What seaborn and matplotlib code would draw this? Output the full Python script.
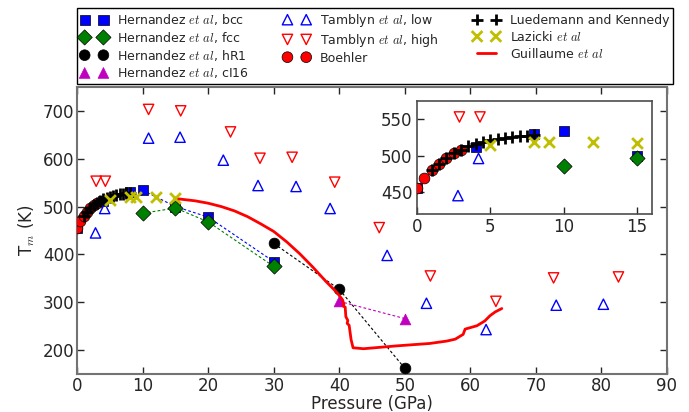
import numpy as np
import seaborn as sns
import matplotlib
matplotlib.use("Agg")
import matplotlib.pyplot as plt

# Hernandez et al
bcc_p = [0, 4, 8, 10, 15, 20, 30]
bcc_t = [455, 512, 530, 534, 500, 478, 385]
bcc_line_p = [10, 15, 20, 30]
bcc_line_t = [534, 500, 478, 385]
fcc_p = [10, 15, 20, 30]
fcc_t = [486, 497, 468, 375]
hr1_p = [30, 40, 50]
hr1_t = [423, 327, 162]
ci16_p = [40, 50]
ci16_t = [302, 266]

# Tamblyn et al
tam_low_p = [2.8, 4.2, 10.9, 15.7, 22.3, 27.6, 33.4, 38.6, 47.3, 53.3, 62.4, 73.1, 80.3]
tam_low_t = [445, 496, 643, 645, 597, 544, 542, 496, 398, 298, 243, 294, 296]
tam_high_p = [2.9, 4.3, 10.9, 15.8, 23.4, 27.9, 32.8, 39.3, 46.1, 53.9, 63.9, 72.7, 82.6]
tam_high_t = [553, 553, 703, 700, 656, 601, 603, 551, 456, 355, 302, 351, 353]

# Boehler
boe_p = [0, 0.5, 1, 1.5, 2, 2.5, 3]
boe_t = [455, 469, 480, 489, 496, 503, 508]

# Luedemann and Kennedy
lk_p = [1, 1.5, 2, 2.5, 3, 3.5, 4, 4.5, 5, 5.5, 6, 6.5, 7, 7.5, 8]
lk_t = [480, 489, 496, 503, 508, 512.5, 515.8, 518.5, 520.7, 523, 524.8, 526.1, 527, 527.5, 528.4]

# Lazicki et al
laz_p = [5, 8, 9, 12, 15]
laz_t = [514, 519, 519, 519, 517]

# Guillaume et al
gui_p = [15.5, 18, 20, 22, 24, 26, 28, 30, 32, 34, 36, 38, 39.6, 40.4, 40.5, 40.7, 40.6, 40.9,
         41.0, 41.3, 41.2, 41.5, 41.8, 42.1, 43.7, 48.8, 53.8, 56.4, 57.7, 58.9, 59.2,
         61.0, 62.2, 63.0, 63.8, 64.8]
gui_t = [516, 512, 507, 500, 491, 479, 464, 448, 426, 401, 373, 343, 321, 307, 305, 296, 292, 290,
         270, 262, 256, 252, 222, 205, 203, 209, 214, 219, 223, 233, 244,
         251, 261, 272, 280, 287]

sns.set_style("ticks")
plt.rcParams['font.family'] = ['DejaVu Sans']
plt.rcParams['mathtext.fontset'] = 'cm'


def draw_points(ax, labels=True):
    def lab(s):
        return s if labels else None
    h = []
    h.append(sns.scatterplot(x=bcc_p, y=bcc_t, marker='s', s=55, color='b', edgecolor='k',
                             linewidth=0.5, zorder=3, ax=ax, label=lab(r'Hernandez $et\ al$, bcc'),
                             legend=False).collections[-1])
    h.append(sns.scatterplot(x=fcc_p, y=fcc_t, marker='D', s=60, color='g', edgecolor='k',
                             linewidth=0.5, zorder=3, ax=ax, label=lab(r'Hernandez $et\ al$, fcc'),
                             legend=False).collections[-1])
    h.append(sns.scatterplot(x=hr1_p, y=hr1_t, marker='o', s=60, color='k', edgecolor='k',
                             linewidth=0.5, zorder=3, ax=ax, label=lab(r'Hernandez $et\ al$, hR1'),
                             legend=False).collections[-1])
    h.append(sns.scatterplot(x=ci16_p, y=ci16_t, marker='^', s=60, color='m', edgecolor='m',
                             linewidth=0.5, zorder=3, ax=ax, label=lab(r'Hernandez $et\ al$, cI16'),
                             legend=False).collections[-1])
    h.append(sns.scatterplot(x=tam_low_p, y=tam_low_t, marker='^', s=55, color='b', facecolor='none',
                             edgecolor='b', linewidth=1, zorder=3, ax=ax,
                             label=lab(r'Tamblyn $et\ al$, low'), legend=False).collections[-1])
    h.append(sns.scatterplot(x=tam_high_p, y=tam_high_t, marker='v', s=55, color='r', facecolor='none',
                             edgecolor='r', linewidth=1, zorder=3, ax=ax,
                             label=lab(r'Tamblyn $et\ al$, high'), legend=False).collections[-1])
    h.append(sns.scatterplot(x=boe_p, y=boe_t, marker='o', s=60, color='r', edgecolor='k',
                             linewidth=0.5, zorder=3, ax=ax, label=lab('Boehler'),
                             legend=False).collections[-1])
    h.append(sns.scatterplot(x=lk_p, y=lk_t, marker='+', s=70, color='k', linewidth=2,
                             zorder=3, ax=ax, label=lab('Luedemann and Kennedy'),
                             legend=False).collections[-1])
    h.append(sns.scatterplot(x=laz_p, y=laz_t, marker='x', s=60, color='y', linewidth=2,
                             zorder=3, ax=ax, label=lab(r'Lazicki $et\ al$'),
                             legend=False).collections[-1])
    return h


fig = plt.figure(figsize=(6.89, 4.12), dpi=100)
ax = fig.add_axes([0.112, 0.092, 0.856, 0.697])

dash = (0, (2.5, 2))
sns.lineplot(x=bcc_line_p, y=bcc_line_t, sort=False, estimator=None, color='b', lw=0.8,
             linestyle=dash, zorder=2, ax=ax, legend=False)
sns.lineplot(x=fcc_p, y=fcc_t, sort=False, estimator=None, color='g', lw=0.8,
             linestyle=dash, zorder=2, ax=ax, legend=False)
sns.lineplot(x=hr1_p, y=hr1_t, sort=False, estimator=None, color='k', lw=0.8,
             linestyle=dash, zorder=2, ax=ax, legend=False)
sns.lineplot(x=ci16_p, y=ci16_t, sort=False, estimator=None, color='m', lw=0.8,
             linestyle=dash, zorder=2, ax=ax, legend=False)

handles = draw_points(ax)
sns.lineplot(x=gui_p, y=gui_t, sort=False, estimator=None, color='r', lw=2, zorder=4,
             ax=ax, legend=False)
gui_line = ax.lines[-1]
gui_line.set_label(r'Guillaume $et\ al$')
handles.append(gui_line)

ax.set_xlim(0, 90)
ax.set_ylim(150, 750)
ax.set_xticks(range(0, 91, 10))
ax.set_yticks(range(200, 701, 100))
ax.set_xlabel('Pressure (GPa)', fontsize=12, labelpad=0)
ax.set_ylabel(r'T$_m$ (K)', fontsize=12)
ax.tick_params(direction='in', length=5, width=1, labelsize=12, top=True, right=True, pad=2)
for sp in ax.spines.values():
    sp.set_color('0.45')
    sp.set_linewidth(1.5)

ax.legend(handles, [h.get_label() for h in handles], ncol=3, loc='lower left',
          bbox_to_anchor=(0, 1.01, 1.01, 0.1), mode='expand', borderaxespad=0,
          scatterpoints=2, scatteryoffsets=[0.5], numpoints=2, fontsize=9,
          handlelength=2.1, labelspacing=0.22, fancybox=False, edgecolor='k',
          framealpha=1, handletextpad=0.8, borderpad=0.3)

ins = fig.add_axes([0.605, 0.481, 0.341, 0.274])
draw_points(ins, labels=False)
ins.set_xlim(0, 16)
ins.set_ylim(420, 575)
ins.set_xticks([0, 5, 10, 15])
ins.set_yticks([450, 500, 550])
ins.tick_params(direction='in', length=5, width=1, labelsize=12, pad=3)
for sp in ins.spines.values():
    sp.set_color('0.3')
    sp.set_linewidth(1.2)

fig.savefig('out.png', dpi=100)
